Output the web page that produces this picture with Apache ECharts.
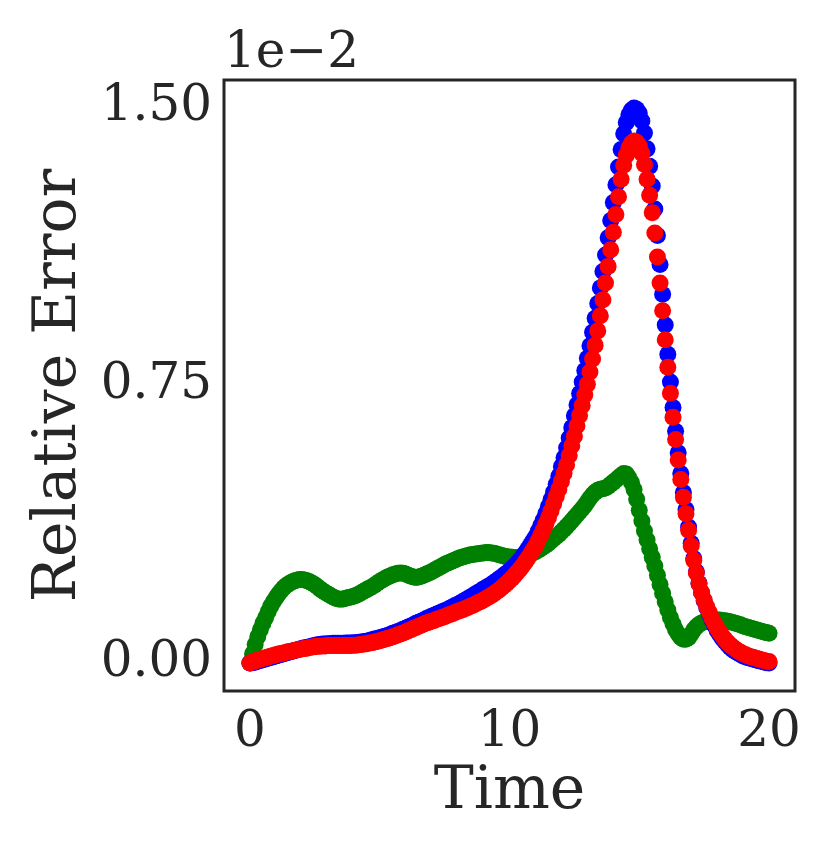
<!DOCTYPE html>
<html>
<head>
<meta charset="utf-8">
<script src="https://cdn.jsdelivr.net/npm/echarts@6/dist/echarts.min.js"></script>
<style>
html,body{margin:0;padding:0;background:#fff;}
#chart{width:830px;height:851px;}
</style>
</head>
<body>
<div id="chart"></div>
<script>
// Time grid: 0 to 20 in steps of 0.1 (201 samples)
const times = Array.from({length: 201}, (_, i) => +(i * 0.1).toFixed(1));

// Values in units of 1e-2
const blueValues = [
0.000,0.001,0.002,0.005,0.007,0.009,0.011,0.013,0.015,0.017,
0.019,0.021,0.023,0.025,0.027,0.029,0.031,0.033,0.035,0.037,
0.039,0.041,0.042,0.044,0.046,0.047,0.049,0.050,0.051,0.051,
0.052,0.052,0.053,0.053,0.053,0.053,0.053,0.054,0.054,0.054,
0.055,0.055,0.056,0.057,0.058,0.059,0.061,0.063,0.065,0.066,
0.068,0.070,0.072,0.074,0.077,0.080,0.082,0.085,0.088,0.091,
0.094,0.097,0.100,0.103,0.107,0.110,0.113,0.116,0.120,0.123,
0.126,0.129,0.132,0.135,0.138,0.141,0.144,0.148,0.151,0.155,
0.158,0.162,0.166,0.170,0.174,0.178,0.182,0.187,0.191,0.195,
0.200,0.204,0.208,0.212,0.217,0.222,0.227,0.232,0.238,0.243,
0.249,0.255,0.262,0.270,0.278,0.287,0.297,0.307,0.318,0.329,
0.340,0.355,0.370,0.386,0.403,0.422,0.441,0.461,0.482,0.504,
0.530,0.554,0.580,0.607,0.635,0.667,0.697,0.727,0.758,0.789,
0.822,0.856,0.892,0.930,0.970,1.012,1.056,1.101,1.147,1.194,
1.242,1.290,1.338,1.385,1.428,1.458,1.479,1.492,1.497,1.494,
1.483,1.462,1.430,1.387,1.340,1.287,1.225,1.153,1.075,0.995,
0.912,0.833,0.758,0.689,0.625,0.567,0.511,0.460,0.414,0.367,
0.323,0.282,0.246,0.215,0.190,0.168,0.149,0.132,0.116,0.102,
0.088,0.077,0.067,0.058,0.050,0.042,0.036,0.031,0.027,0.023,
0.019,0.016,0.014,0.012,0.010,0.008,0.006,0.005,0.003,0.001,
0.000
];

const redValues = [
0.000,0.003,0.005,0.008,0.010,0.012,0.014,0.016,0.018,0.020,
0.022,0.024,0.026,0.027,0.029,0.031,0.032,0.034,0.035,0.037,
0.038,0.039,0.040,0.042,0.043,0.044,0.045,0.045,0.046,0.046,
0.047,0.047,0.047,0.047,0.047,0.047,0.047,0.047,0.047,0.047,
0.048,0.048,0.049,0.050,0.051,0.052,0.054,0.055,0.057,0.058,
0.060,0.062,0.064,0.066,0.068,0.071,0.073,0.076,0.078,0.081,
0.084,0.087,0.090,0.093,0.096,0.099,0.102,0.105,0.108,0.110,
0.113,0.115,0.118,0.120,0.123,0.125,0.128,0.131,0.133,0.136,
0.139,0.142,0.144,0.147,0.150,0.153,0.156,0.160,0.163,0.166,
0.170,0.174,0.178,0.182,0.187,0.192,0.197,0.203,0.209,0.215,
0.222,0.229,0.237,0.245,0.253,0.262,0.272,0.282,0.293,0.304,
0.315,0.329,0.344,0.359,0.375,0.392,0.410,0.429,0.449,0.469,
0.490,0.512,0.535,0.560,0.586,0.612,0.640,0.668,0.695,0.723,
0.752,0.785,0.820,0.857,0.896,0.937,0.980,1.025,1.070,1.115,
1.162,1.210,1.258,1.305,1.343,1.370,1.390,1.402,1.408,1.405,
1.395,1.375,1.345,1.305,1.262,1.215,1.160,1.095,1.025,0.950,
0.872,0.798,0.728,0.663,0.603,0.548,0.495,0.447,0.403,0.358,
0.316,0.277,0.243,0.214,0.190,0.170,0.152,0.136,0.121,0.107,
0.094,0.083,0.073,0.064,0.056,0.049,0.043,0.038,0.033,0.029,
0.025,0.022,0.019,0.017,0.015,0.013,0.011,0.009,0.007,0.005,
0.004
];

const greenValues = [
0.000,0.025,0.050,0.071,0.090,0.107,0.122,0.138,0.153,0.165,
0.176,0.186,0.195,0.203,0.209,0.214,0.218,0.221,0.223,0.225,
0.225,0.224,0.222,0.219,0.215,0.211,0.206,0.200,0.195,0.190,
0.186,0.182,0.178,0.175,0.173,0.172,0.173,0.175,0.177,0.178,
0.180,0.183,0.186,0.190,0.194,0.198,0.202,0.206,0.210,0.215,
0.220,0.224,0.228,0.232,0.235,0.238,0.240,0.242,0.243,0.242,
0.240,0.237,0.234,0.232,0.231,0.232,0.234,0.237,0.240,0.243,
0.246,0.250,0.254,0.258,0.262,0.266,0.269,0.272,0.275,0.278,
0.281,0.284,0.286,0.288,0.290,0.292,0.293,0.294,0.295,0.296,
0.297,0.298,0.298,0.297,0.296,0.294,0.292,0.290,0.288,0.287,
0.286,0.285,0.284,0.284,0.285,0.286,0.288,0.291,0.294,0.297,
0.300,0.304,0.308,0.313,0.318,0.323,0.329,0.335,0.341,0.347,
0.354,0.361,0.368,0.376,0.384,0.392,0.400,0.408,0.416,0.425,
0.435,0.445,0.454,0.461,0.466,0.469,0.470,0.472,0.476,0.482,
0.488,0.494,0.500,0.506,0.511,0.510,0.500,0.487,0.468,0.442,
0.412,0.383,0.356,0.332,0.308,0.285,0.262,0.237,0.212,0.188,
0.165,0.143,0.123,0.105,0.090,0.078,0.069,0.064,0.064,0.068,
0.078,0.090,0.098,0.104,0.108,0.111,0.113,0.115,0.116,0.116,
0.116,0.116,0.115,0.114,0.113,0.111,0.109,0.107,0.105,0.103,
0.100,0.098,0.096,0.094,0.092,0.090,0.088,0.086,0.084,0.082,
0.080
];

const xTicks = [0, 10, 20];
const yTicks = [0, 0.75, 1.5];
const xTitle = 'Time';
const yTitle = 'Relative Error';
const offsetText = '1e\u22122';

const pair = vals => times.map((t, i) => [t, vals[i]]);

const FONT = 'DejaVu Serif';
const TXT = '#262626';

const chart = echarts.init(document.getElementById('chart'), null, {renderer: 'canvas'});

const mk = (name, color, vals, z) => ({
  name: name,
  type: 'scatter',
  data: pair(vals),
  symbol: 'circle',
  symbolSize: 17,
  itemStyle: {color: color, opacity: 1},
  emphasis: {disabled: true},
  animation: false,
  z: z
});

chart.setOption({
  backgroundColor: '#ffffff',
  animation: false,
  grid: {
    left: 224, top: 80, right: 35, bottom: 160,
    show: true, borderColor: '#262626', borderWidth: 3, backgroundColor: '#ffffff'
  },
  xAxis: {
    type: 'value', min: -1, max: 21,
    name: xTitle, nameLocation: 'middle', nameGap: 62,
    nameTextStyle: {fontFamily: FONT, fontSize: 60, color: TXT},
    axisLine: {show: false},
    axisTick: {show: false},
    splitLine: {show: false},
    axisLabel: {
      customValues: xTicks,
      fontFamily: FONT, fontSize: 50, color: TXT, margin: 17,
      formatter: v => String(v)
    }
  },
  yAxis: {
    type: 'value', min: -0.0755, max: 1.5728,
    name: yTitle, nameLocation: 'middle', nameGap: 132, nameRotate: 90,
    nameTextStyle: {fontFamily: FONT, fontSize: 60, color: TXT},
    axisLine: {show: false},
    axisTick: {show: false},
    splitLine: {show: false},
    axisLabel: {
      customValues: yTicks,
      fontFamily: FONT, fontSize: 50, color: TXT, margin: 12,
      formatter: v => v.toFixed(2)
    }
  },
  graphic: [{
    type: 'text', left: 224, top: 29,
    style: {text: offsetText, fontFamily: FONT, fontSize: 50, fill: TXT}
  }],
  series: [
    mk('green', '#008000', greenValues, 2),
    mk('blue', '#0000ff', blueValues, 3),
    mk('red', '#ff0000', redValues, 4)
  ]
});
</script>
</body>
</html>
